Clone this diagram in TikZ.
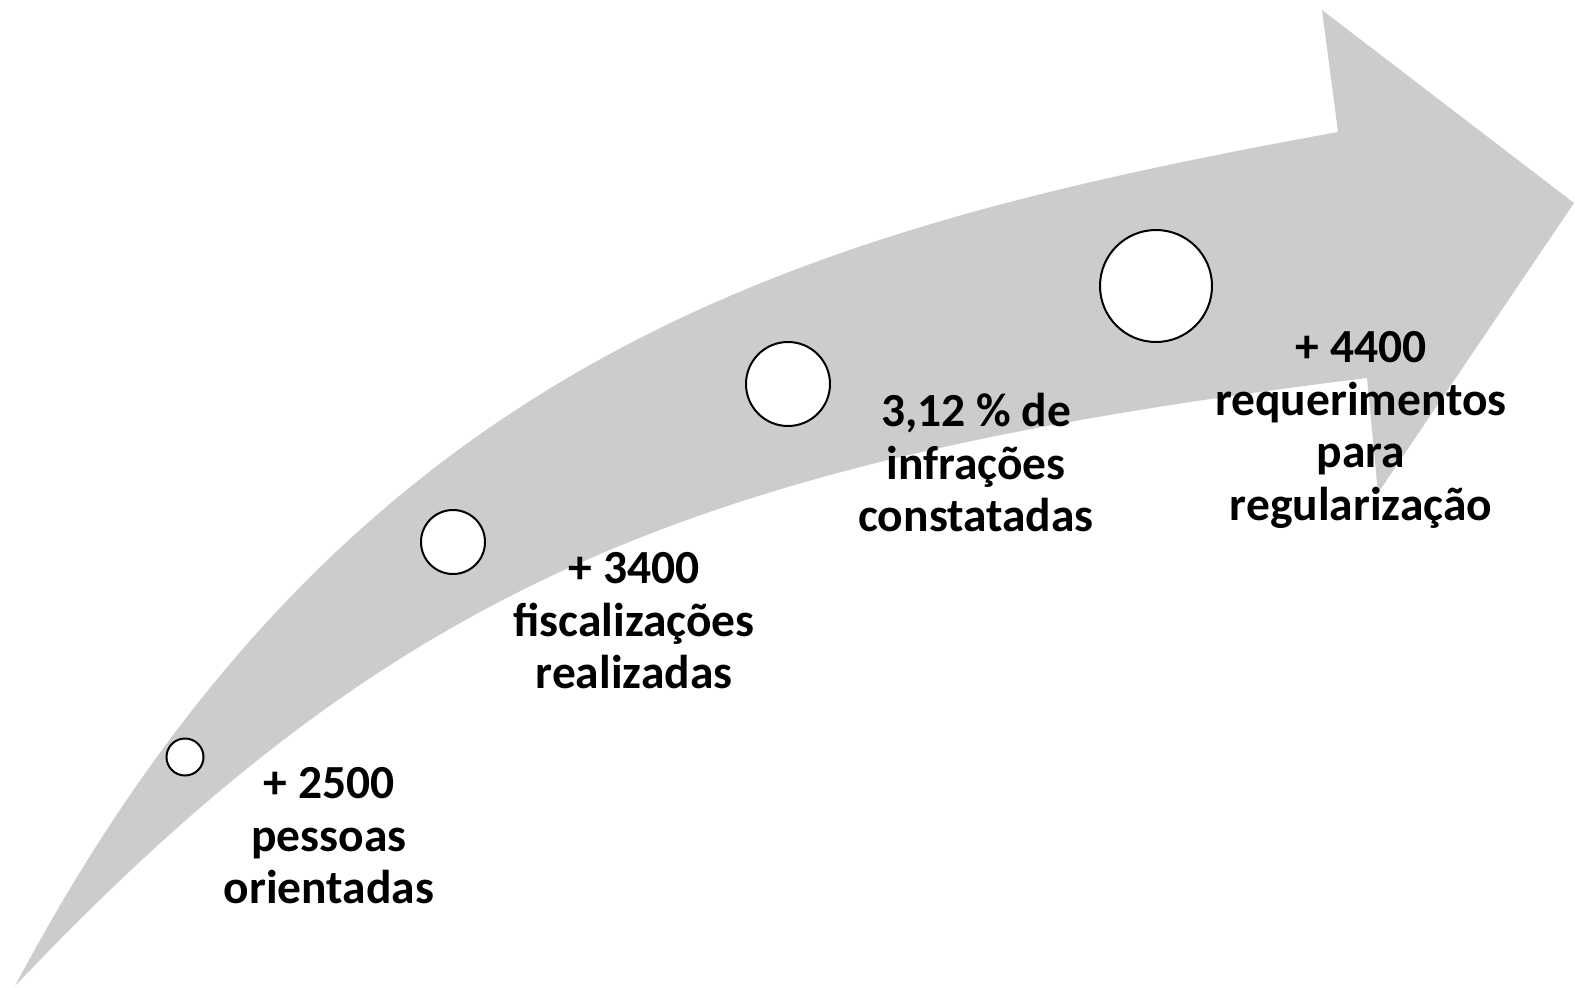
\documentclass[tikz,border=0pt]{standalone}
\usepackage{fontspec}
\setmainfont{Carlito}
\begin{document}
\begin{tikzpicture}[x=1pt,y=-1pt,
  band/.style={fill=bandgray,draw=none},
  dot/.style={circle,draw=black,fill=white,line width=2pt,inner sep=0pt},
  lbl/.style={align=center,font={\fontsize{47.5}{52.5}\selectfont\bfseries},inner sep=0pt}]
\definecolor{bandgray}{HTML}{CCCCCC}
\useasboundingbox (0,0) rectangle (1575,988);
\fill[bandgray] (15,986) .. controls (350,355) and (800,230) .. (1338,132)
  -- (1322,10) -- (1574,203) -- (1378,493) -- (1367,378)
  .. controls (700,460) and (400,580) .. (15,986) -- cycle;
\node[dot,minimum size=37pt] (c1) at (185,757) {};
\node[dot,minimum size=64pt] (c2) at (453,542) {};
\node[dot,minimum size=84pt] (c3) at (788,384) {};
\node[dot,minimum size=112pt] (c4) at (1156,286) {};
\node[lbl] (t1) at (329,836) {+ 2500\\pessoas\\orientadas};
\node[lbl] (t2) at (634,621) {+ 3400\\fiscalizações\\realizadas};
\node[lbl] (t3) at (976,463) {3,12 \% de\\infrações\\constatadas};
\node[lbl] (t4) at (1361,430) {+ 4400\\requerimentos\\para\\regularização};
\end{tikzpicture}
\end{document}
